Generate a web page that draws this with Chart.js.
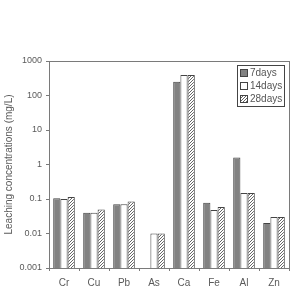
<!DOCTYPE html>
<html>
<head>
<meta charset="utf-8">
<script src="https://cdn.jsdelivr.net/npm/chart.js@4/dist/chart.umd.min.js"></script>
<style>
  html, body { margin: 0; padding: 0; background: #fff; }
  #wrap { width: 293px; height: 291px; }
</style>
</head>
<body>
<div id="wrap"><canvas id="myChart" width="293" height="291"></canvas></div>
<script>
const metals = ['Cr', 'Cu', 'Pb', 'As', 'Ca', 'Fe', 'Al', 'Zn'];
const days7 = [0.105, 0.04, 0.07, null, 250, 0.078, 1.6, 0.02];
const days14 = [0.1, 0.04, 0.07, 0.01, 390, 0.048, 0.15, 0.03];
const days28 = [0.115, 0.05, 0.085, 0.01, 390, 0.059, 0.15, 0.03];
const seriesNames = ['7days', '14days', '28days'];
const yTicks = [0.001, 0.01, 0.1, 1, 10, 100, 1000];

const axisColor = '#7a7a7a';
const textColor = '#5a5a5a';
const fontFam = '"Liberation Sans", Arial, sans-serif';

// diagonal hatch for 28 days
function hatch() {
    const c = document.createElement('canvas');
    c.width = 3; c.height = 3;
    const g = c.getContext('2d');
    g.fillStyle = '#fff';
    g.fillRect(0, 0, 3, 3);
    g.strokeStyle = '#666';
    g.lineWidth = 1;
    g.beginPath();
    g.moveTo(0, 3); g.lineTo(3, 0);
    g.moveTo(-1, 1); g.lineTo(1, -1);
    g.moveTo(2, 4); g.lineTo(4, 2);
    g.stroke();
    return g.createPattern(c, 'repeat');
}

const fills = ['#828282', '#ffffff', null];

const boxPlugin = {
    id: 'boxPlugin',
    afterDraw(chart) {
        const ctx = chart.ctx;
        const a = chart.chartArea;
        ctx.save();
        ctx.strokeStyle = axisColor;
        ctx.lineWidth = 1;
        ctx.strokeRect(a.left + 0.5, a.top + 0.5, a.right - a.left, a.bottom - a.top);

        // legend box in upper right
        const lx = 237, ly = 65, lw = 47, lh = 41;
        ctx.fillStyle = '#fff';
        ctx.fillRect(lx, ly, lw, lh);
        ctx.strokeStyle = '#444';
        ctx.strokeRect(lx + 0.5, ly + 0.5, lw, lh);
        ctx.font = '10px ' + fontFam;
        ctx.textBaseline = 'middle';
        chart.data.datasets.forEach((ds, i) => {
            const y = ly + 8 + i * 13;
            ctx.fillStyle = ds.backgroundColor;
            ctx.fillRect(lx + 3, y - 3.5, 7, 7);
            ctx.strokeStyle = '#444';
            ctx.strokeRect(lx + 3.5, y - 3.5, 7, 7);
            ctx.fillStyle = '#555';
            ctx.fillText(ds.label, lx + 13, y + 0.5);
        });
        ctx.restore();
    }
};

const ctx = document.getElementById('myChart').getContext('2d');
const myChart = new Chart(ctx, {
    type: 'bar',
    data: {
        labels: metals,
        datasets: [days7, days14, days28].map((vals, i) => ({
            label: seriesNames[i],
            data: vals,
            backgroundColor: fills[i] || hatch(),
            borderColor: '#444',
            borderWidth: 1,
            categoryPercentage: 0.72,
            barPercentage: 1.0
        }))
    },
    options: {
        responsive: false,
        animation: false,
        layout: { padding: { left: 0, right: 4, top: 61, bottom: 0 } },
        scales: {
            x: {
                grid: {
                    offset: true,
                    drawOnChartArea: false,
                    drawTicks: true,
                    tickLength: 3,
                    color: axisColor
                },
                border: { color: axisColor },
                ticks: {
                    color: textColor,
                    padding: 6,
                    font: { family: fontFam, size: 10 }
                },
                afterFit(scale) { scale.height = 23; }
            },
            y: {
                type: 'logarithmic',
                min: 0.001,
                max: 1000,
                grid: {
                    drawOnChartArea: false,
                    drawTicks: true,
                    tickLength: 3,
                    color: axisColor
                },
                border: { color: axisColor },
                afterBuildTicks(scale) {
                    scale.ticks = yTicks.map(v => ({ value: v }));
                },
                ticks: {
                    color: textColor,
                    padding: 4,
                    font: { family: fontFam, size: 9 },
                    callback: v => String(v)
                },
                title: {
                    display: true,
                    text: 'Leaching concentrations (mg/L)',
                    color: textColor,
                    padding: 3,
                    font: { family: fontFam, size: 10 }
                },
                afterFit(scale) { scale.width = 49; }
            }
        },
        plugins: {
            legend: { display: false },
            tooltip: { enabled: false }
        }
    },
    plugins: [boxPlugin]
});
</script>
</body>
</html>
